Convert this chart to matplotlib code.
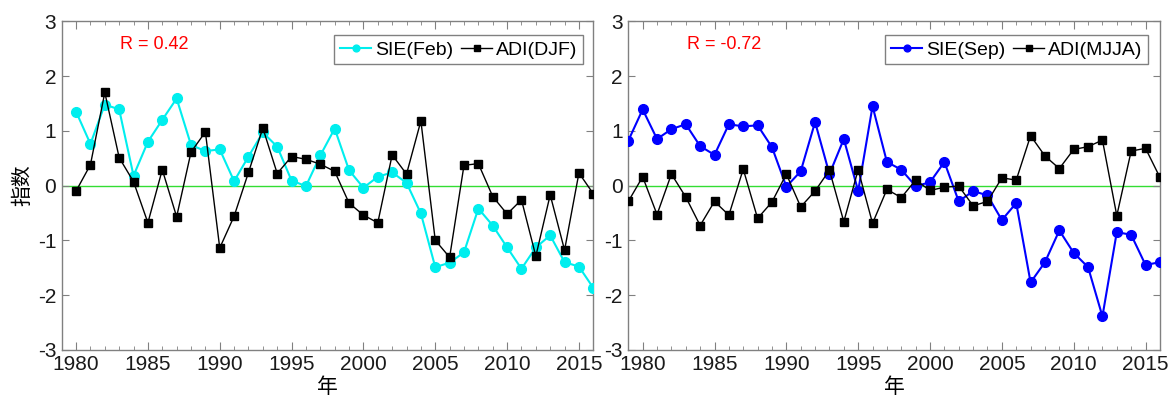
import matplotlib
matplotlib.use("Agg")
import matplotlib.pyplot as plt
from matplotlib.ticker import MultipleLocator
import numpy as np

plt.rcParams['font.family'] = ['Liberation Sans', 'Noto Sans CJK SC', 'DejaVu Sans']
plt.rcParams['axes.unicode_minus'] = False

# ---- data ----
years_left = list(range(1980, 2017))
sie_feb = [1.35, 0.76, 1.48, 1.39, 0.18, 0.80, 1.20, 1.59, 0.74, 0.63,
           0.66, 0.08, 0.53, 0.97, 0.71, 0.09, -0.01, 0.55, 1.04, 0.28,
           -0.04, 0.16, 0.24, 0.05, -0.51, -1.49, -1.41, -1.22, -0.42, -0.73,
           -1.13, -1.52, -1.13, -0.91, -1.40, -1.48, -1.87]
adi_djf = [-0.10, 0.38, 1.70, 0.51, 0.07, -0.68, 0.29, -0.57, 0.61, 0.98,
           -1.14, -0.56, 0.24, 1.05, 0.22, 0.53, 0.48, 0.39, 0.26, -0.32,
           -0.54, -0.68, 0.56, 0.21, 1.18, -1.00, -1.31, 0.37, 0.40, -0.20,
           -0.52, -0.26, -1.29, -0.17, -1.18, 0.23, -0.15]

years_right = list(range(1979, 2017))
sie_sep = [0.82, 1.39, 0.85, 1.03, 1.12, 0.72, 0.56, 1.12, 1.08, 1.10,
           0.70, -0.02, 0.26, 1.16, 0.21, 0.85, -0.10, 1.45, 0.43, 0.29,
           -0.01, 0.06, 0.43, -0.29, -0.10, -0.18, -0.63, -0.32, -1.77, -1.40,
           -0.82, -1.23, -1.49, -2.39, -0.85, -0.90, -1.45, -1.40]
adi_mjja = [-0.29, 0.16, -0.53, 0.21, -0.21, -0.73, -0.29, -0.54, 0.30, -0.60,
            -0.30, 0.21, -0.39, -0.10, 0.28, -0.66, 0.29, -0.69, -0.07, -0.22,
            0.10, -0.09, -0.03, -0.01, -0.37, -0.29, 0.14, 0.10, 0.91, 0.54,
            0.31, 0.66, 0.71, 0.83, -0.55, 0.63, 0.68, 0.15]

xticks = [1980, 1985, 1990, 1995, 2000, 2005, 2010, 2015]
yticks = [-3, -2, -1, 0, 1, 2, 3]
r_texts = ["R = 0.42", "R = -0.72"]
labels_left = ["SIE(Feb)", "ADI(DJF)"]
labels_right = ["SIE(Sep)", "ADI(MJJA)"]

W, H = 1170, 407
fig = plt.figure(figsize=(W / 100, H / 100), dpi=100)

def make_ax(left_px):
    return fig.add_axes([left_px / W, (H - 349.8) / H, 531.6 / W, 328.5 / H])

axL = make_ax(61.7)
axR = make_ax(628.3)

spine_col = '#808080'

def style(ax):
    ax.set_xlim(1979, 2016)
    ax.set_ylim(-3, 3)
    ax.set_xticks(xticks)
    ax.set_yticks(yticks)
    ax.xaxis.set_minor_locator(MultipleLocator(1))
    ax.tick_params(axis='both', which='both', direction='in', top=True, right=True,
                   color=spine_col, labelsize=15, labelcolor='#1a1a1a')
    ax.tick_params(axis='x', which='major', length=6, pad=4)
    ax.tick_params(axis='x', which='minor', length=3)
    ax.tick_params(axis='y', which='major', length=5, pad=4)
    for s in ax.spines.values():
        s.set_color(spine_col)
        s.set_linewidth(1.0)
    ax.axhline(0, color='#33dd33', lw=1.0, zorder=1)
    ax.set_xlabel('年', fontsize=15, family=['Noto Sans CJK SC'], labelpad=1)

style(axL)
style(axR)
axL.set_ylabel('指数', fontsize=15, family=['Noto Sans CJK SC'], labelpad=3)

l1, = axL.plot(years_left, sie_feb, '-o', color='#00eeee', lw=1.5, ms=7, mec='#00eeee', zorder=3)
l2, = axL.plot(years_left, adi_djf, '-s', color='black', lw=1.0, ms=6, zorder=4)
r1, = axR.plot(years_right, sie_sep, '-o', color='#0000ff', lw=1.5, ms=7, zorder=3)
r2, = axR.plot(years_right, adi_mjja, '-s', color='black', lw=1.0, ms=6, zorder=4)

for ax, txt, xf in [(axL, r_texts[0], 0.174), (axR, r_texts[1], 0.18)]:
    ax.text(xf, 0.928, txt, transform=ax.transAxes, color='red', fontsize=13,
            ha='center', va='center')

def legend(ax, handles, labels, xr):
    leg = ax.legend(handles, labels, loc='upper right', bbox_to_anchor=(xr, 0.958),
                    ncol=2, fontsize=14, frameon=True, fancybox=False,
                    edgecolor=spine_col, framealpha=1, borderaxespad=0,
                    handlelength=1.6, handletextpad=0.2, columnspacing=0.4,
                    borderpad=0.3, markerscale=0.7)
    leg.get_frame().set_linewidth(1.0)

legend(axL, [l1, l2], labels_left, 0.981)
legend(axR, [r1, r2], labels_right, 0.978)

fig.savefig('out.png', dpi=100)
